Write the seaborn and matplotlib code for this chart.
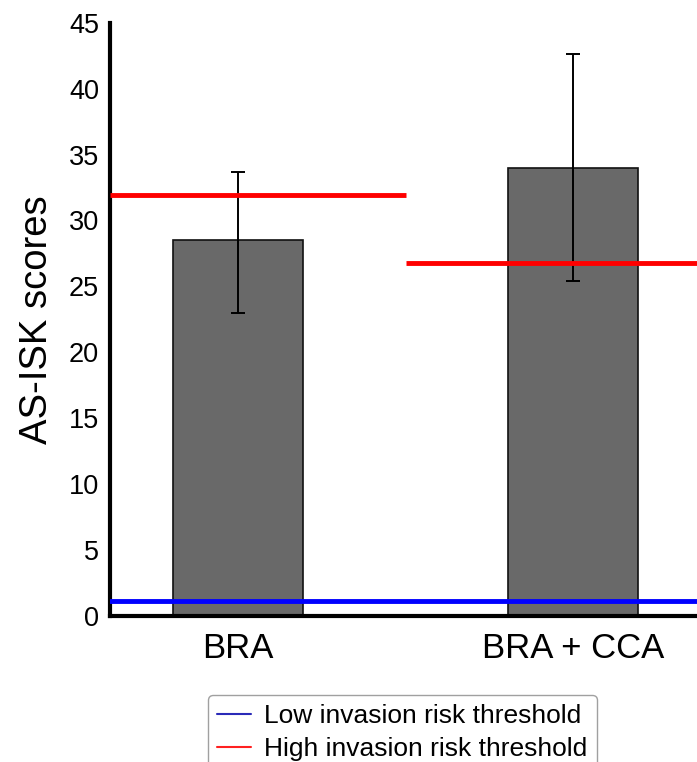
import numpy as np
import pandas as pd
import seaborn as sns
import matplotlib.pyplot as plt
from matplotlib.lines import Line2D

# Data
groups = ["BRA", "BRA + CCA"]
scores = [28.5, 34.0]
err_low = [5.5, 8.6]
err_high = [5.2, 8.6]
high_thresh = [31.9, 26.8]
low_thresh = 1.15

sns.set_theme(style="white")
plt.rcParams["font.family"] = ["Liberation Sans", "DejaVu Sans"]
plt.rcParams["text.color"] = "black"
plt.rcParams["axes.labelcolor"] = "black"
plt.rcParams["xtick.color"] = "black"
plt.rcParams["ytick.color"] = "black"

fig = plt.figure(figsize=(6.97, 7.62), dpi=100)
ax = fig.add_axes([0.158, 0.192, 0.842, 0.778])

df = pd.DataFrame({"group": groups, "score": scores})
sns.barplot(data=df, x="group", y="score", color="#696969", saturation=1,
            width=0.39, edgecolor="#111111", linewidth=1.2, errorbar=None, ax=ax)

xs = np.arange(len(groups))
ax.errorbar(xs, scores, yerr=[err_low, err_high], fmt="none", ecolor="black",
            elinewidth=1.4, capsize=5, capthick=1.4, zorder=3)

# thresholds
ax.set_xlim(-0.382, 1.37)
bounds = [-0.382, 0.5, 1.37]
for i, h in enumerate(high_thresh):
    ax.hlines(h, bounds[i], bounds[i + 1], color="#ff0000", lw=3.5, zorder=4)
ax.axhline(low_thresh, color="#0000ff", lw=3.5, zorder=4)

ax.set_ylim(0, 45)
ax.set_yticks(range(0, 46, 5))
ax.tick_params(axis="y", labelsize=19.5, length=0, pad=8)
ax.tick_params(axis="x", labelsize=25, length=0, pad=12)
ax.set_xlabel("")
ax.set_ylabel("AS-ISK scores", fontsize=27.5, labelpad=10)

sns.despine(ax=ax)
for s in ["left", "bottom"]:
    ax.spines[s].set_linewidth(3)
    ax.spines[s].set_color("black")

handles = [Line2D([], [], color="#2a2ab8", lw=1.5),
           Line2D([], [], color="#ff2020", lw=1.5)]
fig.legend(handles, ["Low invasion risk threshold", "High invasion risk threshold"],
           loc="upper center", bbox_to_anchor=(0.577, 0.088), fontsize=19,
           frameon=True, edgecolor="#888888", fancybox=True, borderaxespad=0,
           handlelength=1.3, handletextpad=0.5, labelspacing=0.35, borderpad=0.35)

fig.savefig("out.png", dpi=100)
